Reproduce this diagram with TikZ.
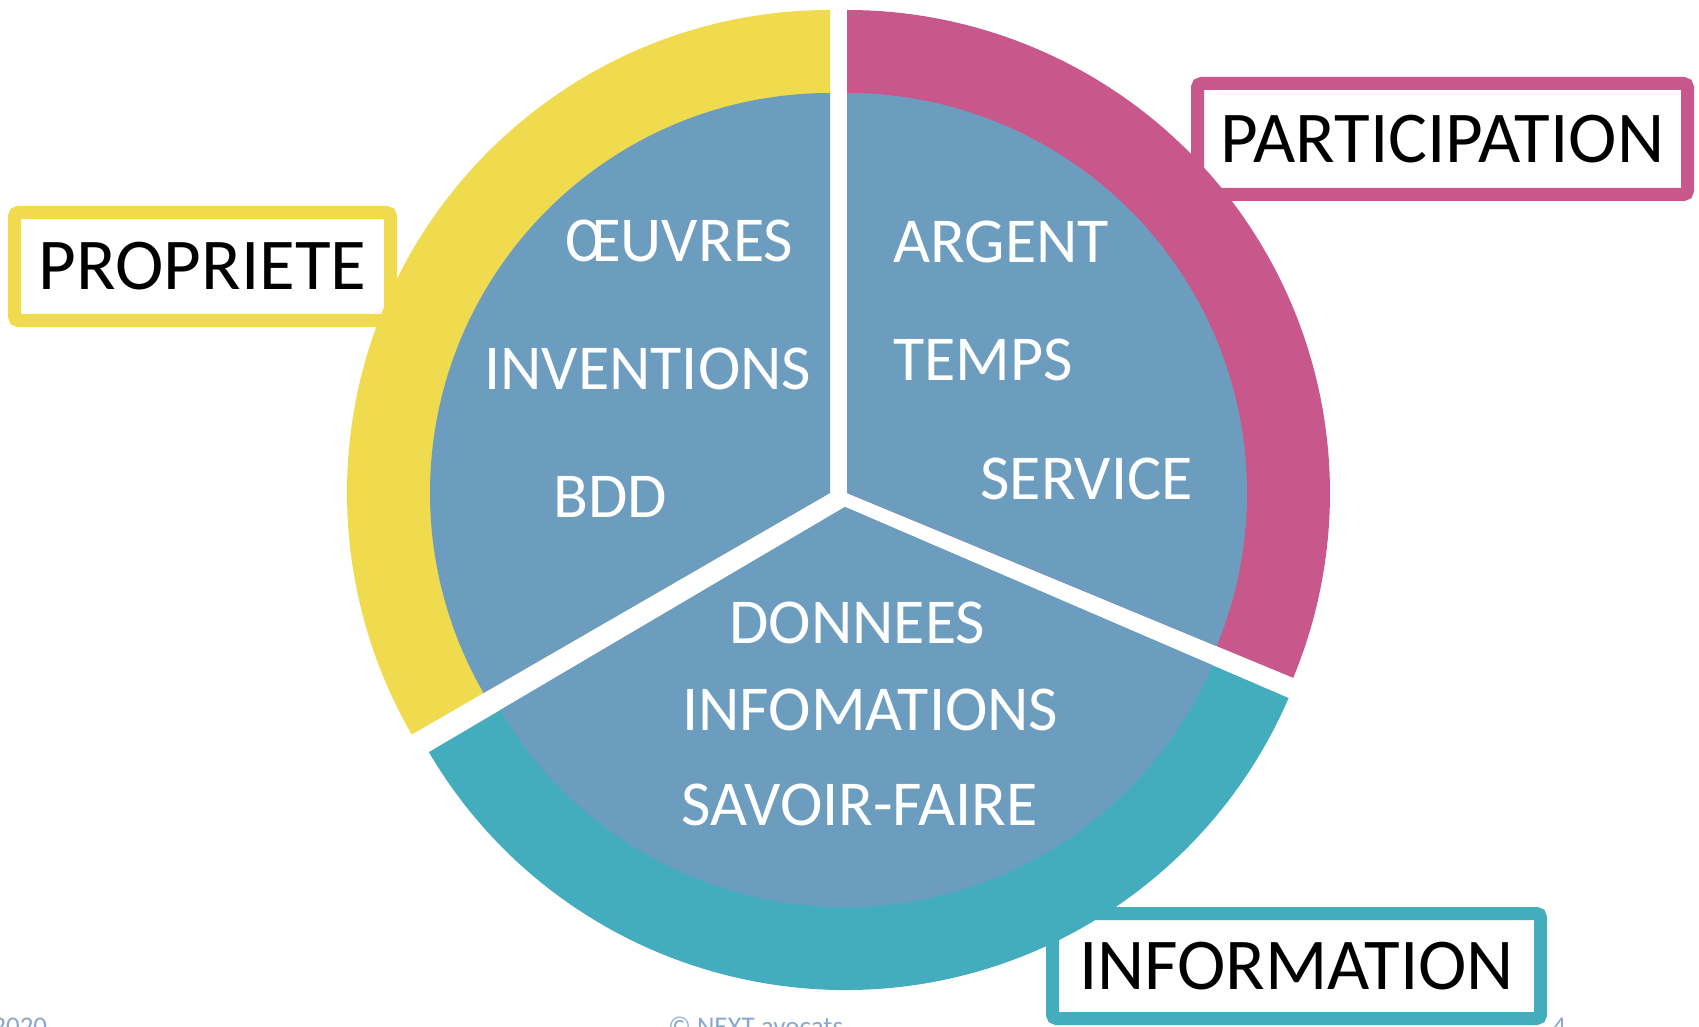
\documentclass[tikz,border=0pt]{standalone}
\usepackage{fontspec}
\setmainfont{Carlito}
\definecolor{propyellow}{HTML}{F0DA4E}
\definecolor{partpink}{HTML}{C8588C}
\definecolor{infoteal}{HTML}{43ADBD}
\definecolor{heartblue}{HTML}{6D9DBE}
\definecolor{footblue}{HTML}{8AA8CC}
\begin{document}
\begin{tikzpicture}[
        x=0.5pt, y=0.5pt,
        tag/.style={draw, line width=6.5pt, fill=white, rounded corners=2pt, inner sep=0pt, text=black, font=\fontsize{36.5}{40}\selectfont},
        item/.style={text=white, inner sep=0pt, anchor=base west, font=\fontsize{32}{36}\selectfont},
        foot/.style={text=footblue, inner sep=0pt, anchor=base west, font=\fontsize{13.5}{16}\selectfont},
        heart/.style={fill=heartblue},
    ]
    \useasboundingbox (0,0) rectangle (1699,-1027);
    \node[tag, draw=propyellow, minimum width=188pt, minimum height=54pt](propriete) at (202.5,-266.5){PROPRIETE};
    \node[tag, draw=partpink, minimum width=245pt, minimum height=55.5pt](participation) at (1442.5,-139){PARTICIPATION};
    \node[tag, draw=infoteal, minimum width=244pt, minimum height=52.5pt](information) at (1296.5,-966){INFORMATION};
    \coordinate (ycore) at (830,-493);
    \coordinate (pcore) at (847,-493);
    \coordinate (tcore) at (845,-507);
    \fill[propyellow] (ycore) -- ++(90:483) arc[start angle=90, end angle=210, radius=483] -- cycle;
    \fill[partpink] (pcore) -- ++(90:483) arc[start angle=90, end angle=-22.5, radius=483] -- cycle;
    \fill[infoteal] (tcore) -- ++(210.5:483) arc[start angle=210.5, end angle=336.7, radius=483] -- cycle;
    \fill[heart] (ycore) -- ++(90:400) arc[start angle=90, end angle=210, radius=400] -- cycle;
    \fill[heart] (pcore) -- ++(90:400) arc[start angle=90, end angle=-22.5, radius=400] -- cycle;
    \fill[heart] (tcore) -- ++(210.5:400) arc[start angle=210.5, end angle=336.7, radius=400] -- cycle;
    \node[item](oeuvres) at (565,-262){ŒUVRES};
    \node[item](inventions) at (484,-390){INVENTIONS};
    \node[item](bdd) at (553,-517){BDD};
    \node[item](argent) at (893,-263){ARGENT};
    \node[item](temps) at (893,-380){TEMPS};
    \node[item](service) at (980,-500){SERVICE};
    \node[item](donnees) at (729,-643){DONNEES};
    \node[item](infomations) at (682,-730){INFOMATIONS};
    \node[item](savoir) at (681,-825){SAVOIR-FAIRE};
    \node[foot](date) at (-8,-1035){2020};
    \node[foot](copyright) at (668,-1035){© NEXT avocats};
    \node[foot](page) at (1552,-1035){4};
\end{tikzpicture}
\end{document}
